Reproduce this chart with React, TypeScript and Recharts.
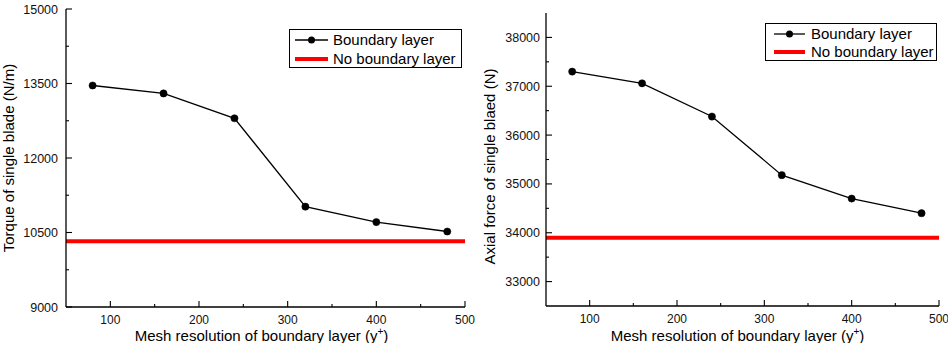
import React from 'react';
import { LineChart, Line, XAxis, YAxis, Legend } from 'recharts';

// ---------- data ----------
const yPlus = [80, 160, 240, 320, 400, 480];
const torqueBoundary = [13460, 13300, 12800, 11020, 10710, 10520];
const torqueNoBoundary = 10325;
const axialBoundary = [37300, 37060, 36380, 35180, 34700, 34400];
const axialNoBoundary = 33900;

const xDomain = [50, 500];
const xMajorTicks = [100, 200, 300, 400, 500];
const xMinorTicks = [150, 250, 350, 450];

const torqueDomain = [9000, 15000];
const torqueMajorTicks = [9000, 10500, 12000, 13500, 15000];
const torqueMinorTicks = [9750, 11250, 12750, 14250];

const axialDomain = [32500, 38500];
const axialMajorTicks = [33000, 34000, 35000, 36000, 37000, 38000];
const axialMinorTicks = [33500, 34500, 35500, 36500, 37500];

const seriesNames = ['Boundary layer', 'No boundary layer'];
const xTitleMain = 'Mesh resolution of boundary layer (y';
const xTitleSup = '+';
const xTitleEnd = ')';
const torqueTitle = 'Torque of single blade (N/m)';
const axialTitle = 'Axial force of single blaed (N)';

// ---------- style ----------
const FONT = '"Liberation Sans", Arial, Helvetica, sans-serif';
const RED = '#ff0000';

const sortTicks = (a: number[], b: number[]) => [...a, ...b].sort((p, q) => p - q);

const makeTick =
  (side: 'bottom' | 'top' | 'left' | 'right', majors: number[], showLabel: boolean, gap = 8) =>
  (props: any) => {
    const { x, y, payload } = props;
    const v = payload.value;
    const isMajor = majors.includes(v);
    const len = isMajor ? 6 : 3;
    const st = { stroke: '#000', strokeWidth: 1.1 };
    if (side === 'bottom') {
      return (
        <g>
          <line x1={x} y1={y} x2={x} y2={y - len} {...st} />
          {showLabel && isMajor && (
            <text x={x} y={y + 17} textAnchor="middle" fontSize={12} fontFamily={FONT} fill="#111">
              {v}
            </text>
          )}
        </g>
      );
    }
    if (side === 'top') {
      return <line x1={x} y1={y} x2={x} y2={y + len} {...st} />;
    }
    if (side === 'left') {
      return (
        <g>
          <line x1={x} y1={y} x2={x + len} y2={y} {...st} />
          {showLabel && isMajor && (
            <text x={x - gap} y={y} dy="0.36em" textAnchor="end" fontSize={12.5} fontFamily={FONT} fill="#111">
              {v}
            </text>
          )}
        </g>
      );
    }
    return <line x1={x} y1={y} x2={x - len} y2={y} {...st} />;
  };

type LegendLayout = {
  left: number;
  top: number;
  width: number;
  height: number;
  row1: number;
  row2: number;
  sampleX0: number;
  sampleX1: number;
  textX: number;
};

const LegendBox = ({ lay }: { lay: LegendLayout }) => {
  const mid = (lay.sampleX0 + lay.sampleX1) / 2;
  return (
    <svg width={lay.width} height={lay.height} style={{ display: 'block' }}>
      <rect x={0.5} y={0.5} width={lay.width - 1} height={lay.height - 1} fill="#fff" stroke="#000" strokeWidth={1} />
      <line x1={lay.sampleX0} y1={lay.row1} x2={lay.sampleX1} y2={lay.row1} stroke="#000" strokeWidth={1.3} />
      <circle cx={mid} cy={lay.row1} r={3.5} fill="#000" />
      <text x={lay.textX} y={lay.row1} dy="0.36em" fontSize={15} fontFamily={FONT} fill="#000">
        {seriesNames[0]}
      </text>
      <line x1={lay.sampleX0} y1={lay.row2} x2={lay.sampleX1} y2={lay.row2} stroke={RED} strokeWidth={4} />
      <text x={lay.textX} y={lay.row2} dy="0.36em" fontSize={15} fontFamily={FONT} fill="#000">
        {seriesNames[1]}
      </text>
    </svg>
  );
};

type PanelProps = {
  width: number;
  height: number;
  margin: { top: number; right: number; bottom: number; left: number };
  yAxisWidth: number;
  xAxisHeight: number;
  yDomain: number[];
  yMajor: number[];
  yMinor: number[];
  boundary: number[];
  noBoundary: number;
  yTitle: string;
  yTitleX: number;
  yTitleDy: number;
  xTitleDx: number;
  yLabelGap: number;
  legend: LegendLayout;
};

const Panel = (p: PanelProps) => {
  const boundaryData = yPlus.map((x, i) => ({ x, y: p.boundary[i] }));
  const noBoundaryData = xDomain.map((x) => ({ x, y: p.noBoundary }));
  const xTicks = sortTicks(xMajorTicks, xMinorTicks);
  const yTicks = sortTicks(p.yMajor, p.yMinor);
  const plotLeft = p.margin.left + p.yAxisWidth;
  const plotRight = p.width - p.margin.right;
  const plotTop = p.margin.top;
  const plotBottom = p.height - p.margin.bottom - p.xAxisHeight;
  const axisLine = { stroke: '#000', strokeWidth: 1.3 };

  const xTitle = (props: any) => {
    const vb = props && props.viewBox ? props.viewBox : { x: plotLeft, y: plotBottom, width: plotRight - plotLeft, height: p.xAxisHeight };
    const cx = vb.x + vb.width / 2 + p.xTitleDx;
    const by = p.height - 2.5;
    return (
      <text x={cx} y={by} textAnchor="middle" fontSize={15} fontFamily={FONT} fill="#000">
        {xTitleMain}
        <tspan fontSize={10} dy={-6}>
          {xTitleSup}
        </tspan>
        <tspan dy={6}>{xTitleEnd}</tspan>
      </text>
    );
  };

  const yTitle = (props: any) => {
    const vb = props && props.viewBox ? props.viewBox : { x: p.margin.left, y: plotTop, width: p.yAxisWidth, height: plotBottom - plotTop };
    const cy = vb.y + vb.height / 2 + p.yTitleDy;
    const bx = p.yTitleX;
    return (
      <text x={bx} y={cy} transform={`rotate(-90 ${bx} ${cy})`} textAnchor="middle" fontSize={15} fontFamily={FONT} fill="#000">
        {p.yTitle}
      </text>
    );
  };

  return (
    <LineChart width={p.width} height={p.height} margin={p.margin}>
      <XAxis
        xAxisId="bottom"
        dataKey="x"
        type="number"
        orientation="bottom"
        domain={xDomain}
        allowDataOverflow
        ticks={xTicks}
        interval={0}
        height={p.xAxisHeight}
        tickSize={0}
        tickMargin={0}
        tickLine={false}
        axisLine={axisLine}
        tick={makeTick('bottom', xMajorTicks, true)}
        label={xTitle}
      />
      <XAxis
        xAxisId="top"
        dataKey="x"
        type="number"
        orientation="top"
        domain={xDomain}
        allowDataOverflow
        ticks={xTicks}
        interval={0}
        height={0}
        tickSize={0}
        tickMargin={0}
        tickLine={false}
        axisLine={axisLine}
        tick={makeTick('top', xMajorTicks, false)}
      />
      <YAxis
        yAxisId="left"
        type="number"
        orientation="left"
        domain={p.yDomain}
        allowDataOverflow
        ticks={yTicks}
        interval={0}
        width={p.yAxisWidth}
        tickSize={0}
        tickMargin={0}
        tickLine={false}
        axisLine={axisLine}
        tick={makeTick('left', p.yMajor, true, p.yLabelGap)}
        label={yTitle}
      />
      <YAxis
        yAxisId="right"
        type="number"
        orientation="right"
        domain={p.yDomain}
        allowDataOverflow
        ticks={yTicks}
        interval={0}
        width={0}
        tickSize={0}
        tickMargin={0}
        tickLine={false}
        axisLine={axisLine}
        tick={makeTick('right', p.yMajor, false)}
      />
      <Line
        xAxisId="bottom"
        yAxisId="left"
        data={noBoundaryData}
        dataKey="y"
        name={seriesNames[1]}
        stroke={RED}
        strokeWidth={4}
        dot={false}
        activeDot={false}
        isAnimationActive={false}
      />
      <Line
        xAxisId="bottom"
        yAxisId="left"
        data={boundaryData}
        dataKey="y"
        name={seriesNames[0]}
        stroke="#000"
        strokeWidth={1.3}
        dot={{ r: 3.6, fill: '#000', stroke: '#000', strokeWidth: 0.5 }}
        activeDot={false}
        isAnimationActive={false}
      />
      <Legend
        layout="vertical"
        align="center"
        verticalAlign="middle"
        wrapperStyle={{ left: p.legend.left, top: p.legend.top, width: p.legend.width, height: p.legend.height, margin: 0, padding: 0 }}
        content={() => <LegendBox lay={p.legend} />}
      />
    </LineChart>
  );
};

export default function App() {
  return (
    <div style={{ position: 'absolute', left: 0, top: 0, width: 948, height: 343, background: '#fff', overflow: 'hidden' }}>
      <div style={{ position: 'absolute', left: 0, top: 0 }}>
        <Panel
          width={475}
          height={343}
          margin={{ top: 9, right: 10, bottom: 0, left: 0 }}
          yAxisWidth={66}
          xAxisHeight={36}
          yDomain={torqueDomain}
          yMajor={torqueMajorTicks}
          yMinor={torqueMinorTicks}
          boundary={torqueBoundary}
          noBoundary={torqueNoBoundary}
          yTitle={torqueTitle}
          yTitleX={14}
          yTitleDy={0}
          xTitleDx={-4}
          yLabelGap={8}
          legend={{ left: 289, top: 29, width: 173, height: 39, row1: 11, row2: 30, sampleX0: 6, sampleX1: 39, textX: 44 }}
        />
      </div>
      <div style={{ position: 'absolute', left: 470, top: 0 }}>
        <Panel
          width={478}
          height={343}
          margin={{ top: 13, right: 9, bottom: 0, left: 0 }}
          yAxisWidth={76}
          xAxisHeight={37}
          yDomain={axialDomain}
          yMajor={axialMajorTicks}
          yMinor={axialMinorTicks}
          boundary={axialBoundary}
          noBoundary={axialNoBoundary}
          yTitle={axialTitle}
          yTitleX={25}
          yTitleDy={7}
          xTitleDx={-5}
          yLabelGap={6}
          legend={{ left: 295, top: 23, width: 172, height: 38, row1: 11, row2: 29, sampleX0: 9, sampleX1: 40, textX: 46 }}
        />
      </div>
    </div>
  );
}
